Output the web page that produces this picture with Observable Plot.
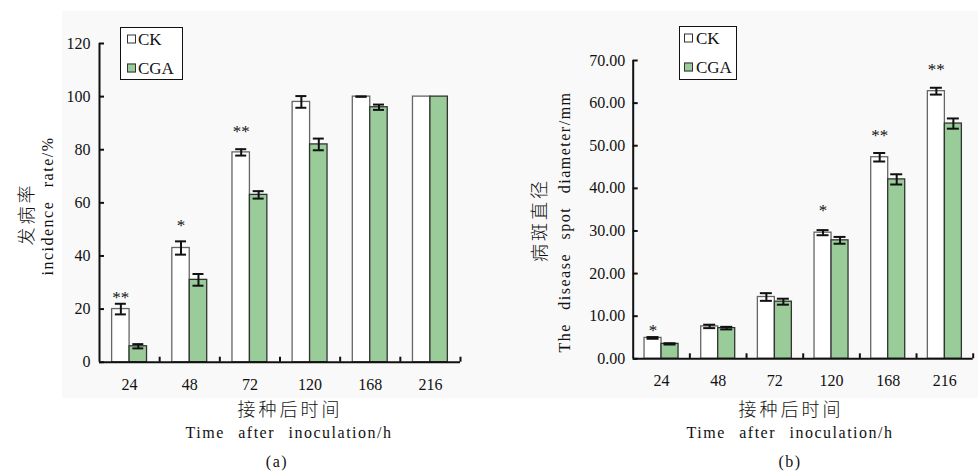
<!DOCTYPE html>
<html><head><meta charset="utf-8">
<script src="https://cdn.jsdelivr.net/npm/d3@7"></script>
<script src="https://cdn.jsdelivr.net/npm/@observablehq/plot@0.6"></script>
<style>
body{margin:0;background:#fff;}
#root{position:relative;width:978px;height:471px;overflow:hidden;font-family:"Liberation Serif","Times New Roman",serif;color:#111;}
#bg{position:absolute;left:62px;top:11px;width:916px;height:387px;background:#f9f9f9;}
.lbl{position:absolute;white-space:nowrap;line-height:1;transform:translate(-50%,-50%);}
.rot{transform:translate(-50%,-50%) rotate(-90deg);}
.en{font-size:16px;letter-spacing:1.5px;word-spacing:8px;}
.zh{font-family:"Noto Sans CJK SC",sans-serif;font-size:18px;letter-spacing:3px;font-weight:300;}
.legend{position:absolute;border:1px solid #111;background:#fff;box-sizing:border-box;}
.sw{position:absolute;width:9px;height:9px;box-sizing:border-box;border:1px solid #333;transform:translateY(-50%);}
.lt{position:absolute;font-size:17px;line-height:1;transform:translateY(-50%);}
</style></head><body><div id="root"><div id="bg"></div></div>
<script>
// ---- data ----
const times = ["24", "48", "72", "120", "168", "216"];
const seriesNames = ["CK", "CGA"];

// (a) incidence rate / %
const incidenceCK = [20, 43, 79, 98, 100, 100];
const incidenceCKErr = [2, 2.5, 1.2, 2.2, 0, null];
const incidenceCGA = [6, 31, 63, 82, 96, 100];
const incidenceCGAErr = [0.8, 2.2, 1.4, 2.2, 1, null];
const incidenceTicks = [0, 20, 40, 60, 80, 100, 120];
const sigTimesA = ["24", "48", "72"];
const sigLabelsA = ["**", "*", "**"];
const sigValuesA = [25.5, 52.5, 88];

// (b) disease spot diameter / mm
const diameterCK = [4.9, 7.6, 14.5, 29.6, 47.3, 62.8];
const diameterCKErr = [0.2, 0.4, 0.9, 0.6, 1.0, 0.8];
const diameterCGA = [3.5, 7.2, 13.4, 27.8, 42.1, 55.2];
const diameterCGAErr = [0.15, 0.3, 0.7, 0.8, 1.2, 1.2];
const diameterTicks = [0, 10, 20, 30, 40, 50, 60, 70];
const sigTimesB = ["24", "120", "168", "216"];
const sigLabelsB = ["*", "*", "**", "**"];
const sigValuesB = [7.4, 35.4, 53.1, 68.5];

const GREEN = "#99cc99";

function panel(o) {
  const fw = o.width - o.ml - o.mr, fh = o.height - o.mt - o.mb;
  const bw = fw / times.length, w = bw * o.wFrac, gap = (bw - 2 * w) / 2;
  const ck = times.map((t, i) => ({time: t, mean: o.ck[i], err: o.ckErr[i]}));
  const cga = times.map((t, i) => ({time: t, mean: o.cga[i], err: o.cgaErr[i]}));
  const ckE = ck.filter(d => d.err != null), cgaE = cga.filter(d => d.err != null);
  const capL1 = gap + w / 2 - o.capW / 2, capR1 = bw - capL1 - o.capW;
  const capL2 = bw / 2 + w / 2 - o.capW / 2, capR2 = bw - capL2 - o.capW;
  const sig = o.sigT.map((t, i) => ({time: t, label: o.sigL[i], v: o.sigV[i]}));
  const caps = (rows, l, r) => [
    Plot.tickY(rows, {x: "time", y: d => d.mean + d.err, insetLeft: l, insetRight: r, stroke: "#111", strokeWidth: 2}),
    Plot.tickY(rows, {x: "time", y: d => d.mean - d.err, insetLeft: l, insetRight: r, stroke: "#111", strokeWidth: 2})
  ];
  const svg = Plot.plot({
    width: o.width, height: o.height,
    marginLeft: o.ml, marginRight: o.mr, marginTop: o.mt, marginBottom: o.mb,
    style: {background: "transparent", fontFamily: "Liberation Serif, serif", fontSize: "16px", color: "#111", overflow: "visible"},
    x: {type: "band", domain: times, padding: 0, round: false},
    y: {domain: o.yDomain},
    marks: [
      Plot.barY(ck, {x: "time", y: "mean", fill: "white", stroke: "#666", strokeWidth: 1.3, insetLeft: gap, insetRight: bw / 2}),
      Plot.barY(cga, {x: "time", y: "mean", fill: GREEN, stroke: "#333", strokeWidth: 1.3, insetLeft: bw / 2, insetRight: gap}),
      Plot.ruleX(ckE, {x: "time", y1: d => d.mean - d.err, y2: d => d.mean + d.err, dx: -w / 2, stroke: "#111", strokeWidth: 2}),
      Plot.ruleX(cgaE, {x: "time", y1: d => d.mean - d.err, y2: d => d.mean + d.err, dx: w / 2, stroke: "#111", strokeWidth: 2}),
      ...caps(ckE, capL1, capR1),
      ...caps(cgaE, capL2, capR2),
      Plot.ruleY([o.yDomain[0]], {stroke: "#111", strokeWidth: 2}),
      Plot.ruleX([times[0]], {dx: -bw / 2, y1: o.yDomain[0], y2: o.yDomain[1], stroke: "#111", strokeWidth: 2}),
      Plot.tickY(o.yTicks, {y: d => d, insetRight: fw - 5, stroke: "#111", strokeWidth: 2}),
      Plot.tickX(times, {x: d => d, dx: bw / 2, insetTop: fh - 5, stroke: "#111", strokeWidth: 2}),
      Plot.axisY({ticks: o.yTicks, tickSize: 0, tickPadding: o.yPad, tickFormat: o.fmt, label: null, fill: "#111"}),
      Plot.axisX({tickSize: 0, tickPadding: 16, label: null, fill: "#111"}),
      Plot.text(sig, {x: "time", y: "v", text: "label", dx: -w / 2, dy: 3, fontSize: 17, fill: "#111"})
    ]
  });
  svg.style.position = "absolute";
  svg.style.left = o.left + "px";
  svg.style.top = "0px";
  svg.style.maxWidth = "none";
  return svg;
}

const root = document.getElementById("root");
root.appendChild(panel({
  left: 0, width: 490, height: 400, ml: 99, mr: 30, mt: 43, mb: 38.3,
  yDomain: [0, 120], yTicks: incidenceTicks, fmt: d3.format("d"), yPad: 9,
  ck: incidenceCK, ckErr: incidenceCKErr, cga: incidenceCGA, cgaErr: incidenceCGAErr,
  sigT: sigTimesA, sigL: sigLabelsA, sigV: sigValuesA, wFrac: 0.29, capW: 11
}));
root.appendChild(panel({
  left: 490, width: 488, height: 400, ml: 142.7, mr: 5.3, mt: 60, mb: 41.7,
  yDomain: [0, 70], yTicks: diameterTicks, fmt: d3.format(".2f"), yPad: 8,
  ck: diameterCK, ckErr: diameterCKErr, cga: diameterCGA, cgaErr: diameterCGAErr,
  sigT: sigTimesB, sigL: sigLabelsB, sigV: sigValuesB, wFrac: 0.30, capW: 12
}));

function label(text, x, y, cls) {
  const d = document.createElement("div");
  d.className = "lbl " + cls;
  d.textContent = text;
  d.style.left = x + "px";
  d.style.top = y + "px";
  root.appendChild(d);
}
// panel (a) titles
label("发病率", 25, 214, "zh rot");
label("incidence rate/%", 48, 206, "en rot");
label("接种后时间", 290, 408, "zh");
label("Time after inoculation/h", 289, 433, "en");
label("(a)", 277, 462, "en");
// panel (b) titles
label("病斑直径", 538, 220, "zh rot");
label("The disease spot diameter/mm", 565, 222, "en rot");
label("接种后时间", 791, 408, "zh");
label("Time after inoculation/h", 790, 433, "en");
label("(b)", 790, 462, "en");

function legend(x, y, w, h, sx, tx, ys) {
  const box = document.createElement("div");
  box.className = "legend";
  Object.assign(box.style, {left: x + "px", top: y + "px", width: w + "px", height: h + "px"});
  root.appendChild(box);
  seriesNames.forEach((name, i) => {
    const s = document.createElement("div");
    s.className = "sw";
    Object.assign(s.style, {left: sx + "px", top: ys[i] + "px", background: i === 0 ? "#fff" : GREEN});
    root.appendChild(s);
    const t = document.createElement("div");
    t.className = "lt";
    t.textContent = name;
    Object.assign(t.style, {left: tx + "px", top: ys[i] + "px"});
    root.appendChild(t);
  });
}
legend(119.7, 27.3, 63.6, 53, 126.7, 138, [39, 68]);
legend(678.7, 25.7, 58, 54.6, 684.3, 696, [38.3, 66.7]);
</script></body></html>
